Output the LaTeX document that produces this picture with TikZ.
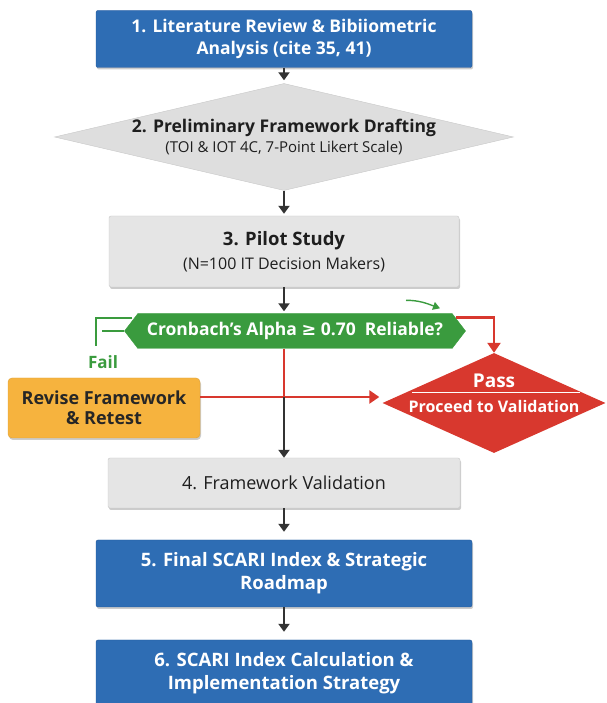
\documentclass[tikz,border=0pt]{standalone}
\usepackage{fontspec}
\setmainfont{Open Sans}
\newfontfamily\symfont{DejaVu Sans}
\usetikzlibrary{arrows.meta, shadows}
\usetikzlibrary{shapes.geometric, shapes.symbols}
\definecolor{stepblue}{RGB}{46,109,180}
\definecolor{blueedge}{RGB}{36,88,154}
\definecolor{grayfill}{RGB}{229,229,229}
\definecolor{grayedge}{RGB}{200,200,200}
\definecolor{draftfill}{RGB}{222,222,222}
\definecolor{darktext}{RGB}{30,30,30}
\definecolor{darkline}{RGB}{51,51,51}
\definecolor{checkgreen}{RGB}{58,155,62}
\definecolor{passred}{RGB}{216,56,46}
\definecolor{reviseorange}{RGB}{246,179,62}

\begin{document}
\begin{tikzpicture}[x=1pt,y=1pt,
	softshadow/.style={drop shadow={shadow xshift=1pt,shadow yshift=-2pt,opacity=0.2,fill=black}},
	bluebox/.style={draw=blueedge,fill=stepblue,text=white,align=center,rounded corners=2pt,softshadow,
		minimum width=376pt,minimum height=57pt,font=\bfseries\fontsize{17.5}{22}\selectfont},
	graybox/.style={draw=grayedge,fill=grayfill,text=darktext,align=center,rounded corners=2pt,softshadow,
		minimum width=350pt},
	draftbox/.style={diamond,draw=grayedge,fill=draftfill,text=darktext,align=center,
		minimum width=459pt,minimum height=107pt,inner sep=0pt,shape aspect=4.3,
		font=\fontsize{15}{19.5}\selectfont},
	checkbox/.style={signal,signal to=east and west,signal pointer angle=105,
		draw=checkgreen,fill=checkgreen,text=white,minimum width=341pt,minimum height=35pt,
		inner xsep=0pt,inner ysep=2pt,font=\bfseries\fontsize{17.5}{20}\selectfont},
	revisebox/.style={draw=reviseorange!90!black,fill=reviseorange,text=black!85,align=center,
		rounded corners=4pt,softshadow,minimum width=192pt,minimum height=60pt,
		font=\bfseries\fontsize{18}{20.5}\selectfont},
	passbox/.style={diamond,fill=passred,minimum width=223pt,minimum height=100pt,
		inner sep=0pt,shape aspect=2.23},
	flow/.style={darkline,line width=2.6pt,-{Triangle[width=11pt,length=8pt]}},
	passflow/.style={passred,line width=2.6pt,-{Triangle[width=13pt,length=10pt]}},
	failline/.style={checkgreen,line width=2.4pt}
]
\useasboundingbox (0,0) rectangle (606,703);
\node[bluebox] (lit) at (284,664) {1. Literature Review \& Bibiiometric\\Analysis (cite 35, 41)};
\node[draftbox] (draft) at (284,566) {{\bfseries\fontsize{17.5}{19.5}\selectfont 2. Preliminary Framework Drafting}\\(TOI \& IOT 4C, 7-Point Likert Scale)};
\node[graybox,minimum height=71pt,font=\fontsize{16}{24}\selectfont] (pilot) at (284,451.5) {{\bfseries\fontsize{18.5}{24}\selectfont 3. Pilot Study}\\(N=100 IT Decision Makers)};
\node[checkbox] (alpha) at (295,372) {Cronbach's Alpha {\symfont\bfseries ≥} 0.70\ \ Reliable?};
\node[revisebox] (revise) at (104,295) {Revise Framework\\\& Retest};
\node[passbox] (pass) at (494,300) {};
\node[text=white,font=\bfseries\fontsize{19}{20}\selectfont] (passlbl) at ([yshift=22pt]pass.center) {Pass};
\node[text=white,font=\bfseries\fontsize{16}{18}\selectfont] (proceed) at ([yshift=-4pt]pass.center) {Proceed to Validation};
\node[text=checkgreen,font=\bfseries\fontsize{17}{18}\selectfont] (fail) at (103,341) {Fail};
\node[graybox,minimum width=352pt,minimum height=50pt,font=\fontsize{18}{20}\selectfont] (valid) at (284,220) {4. Framework Validation};
\node[bluebox,minimum height=67pt,font=\bfseries\fontsize{18.5}{23}\selectfont] (final) at (284,129.5) {5. Final SCARI Index \& Strategic\\Roadmap};
\node[bluebox,minimum height=67pt,font=\bfseries\fontsize{18.5}{23}\selectfont] (calc) at (284,29.5) {6. SCARI Index Calculation \&\\Implementation Strategy};

\draw[white,line width=1pt] ([xshift=-82pt,yshift=10pt]pass.center) -- ([xshift=86pt,yshift=10pt]pass.center);

\coordinate (rline) at ([yshift=11pt]revise.east);
\coordinate (cross) at (valid.north |- rline);
\coordinate (okstart) at ([xshift=111pt,yshift=13pt]alpha.north);
\coordinate (oktip) at ([xshift=145pt,yshift=5pt]alpha.north);

\draw[flow,shorten >=3pt] (lit) -- (draft);
\draw[flow,shorten >=2pt] (draft) -- (pilot);
\draw[flow,shorten >=2pt] (pilot.south) -- (pilot.south |- alpha.north);
\draw[passred,line width=2.6pt] (valid.north |- alpha.south) -- (cross);
\draw[passflow,shorten >=3pt] (rline) -- (rline -| pass.west);
\draw[flow] (cross) -- (valid);
\draw[passflow] ([xshift=161pt,yshift=-4pt]alpha.north) -| (pass.north);
\draw[failline] ([xshift=8pt,yshift=13pt]alpha.west) -| ([xshift=-28pt,yshift=-15pt]alpha.west);
\draw[failline] ([xshift=-22pt]alpha.west) -- (alpha.west);
\draw[checkgreen,line width=1.4pt,-{Triangle[width=8pt,length=7pt]}] (okstart) to[out=0,in=160] (oktip);
\draw[flow,shorten >=8pt] (valid) -- (final);
\draw[flow,shorten >=8pt] (final) -- (calc);
\end{tikzpicture}
\end{document}
